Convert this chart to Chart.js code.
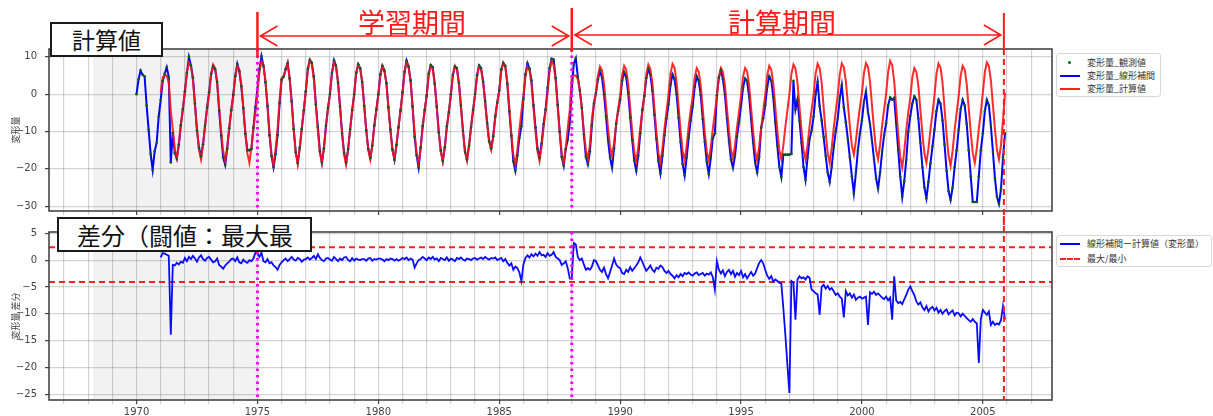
<!DOCTYPE html>
<html>
<head>
<meta charset="utf-8">
<script src="https://cdn.jsdelivr.net/npm/chart.js@4.4.1/dist/chart.umd.min.js"></script>
<style>
  body { margin: 0; background: #fff; width: 1213px; height: 416px; overflow: hidden; position: relative; font-family: "Noto Sans CJK JP", sans-serif; }
  .pane { position: absolute; left: 0; width: 1213px; }
  .box { position: absolute; box-sizing: border-box; background: #fff; border: 2px solid #1a1a1a; white-space: nowrap; overflow: hidden; color: #111; }
  .period { position: absolute; color: #ff1a1a; font-size: 27px; line-height: 27px; height: 27px; white-space: nowrap; transform: translateX(-50%); }
  .legend { position: absolute; box-sizing: border-box; background: #fff; border: 1px solid #d8d8d8; border-radius: 3px; font-size: 9px; color: #333; }
  .legend .row { position: absolute; left: 0; height: 12px; line-height: 12px; white-space: nowrap; }
  .legend .mk { position: absolute; left: 3px; top: 5px; width: 20px; height: 0; }
  .legend .tx { position: absolute; left: 30px; top: 0; }
</style>
</head>
<body>
<div class="pane" style="top:0;height:225px"><canvas id="topChart" width="1213" height="225" style="width:1213px;height:225px"></canvas></div>
<div class="pane" style="top:216px;height:200px"><canvas id="diffChart" width="1213" height="200" style="width:1213px;height:200px"></canvas></div>

<div class="period" style="left:412px;top:8px">学習期間</div>
<div class="period" style="left:782px;top:8px">計算期間</div>
<div class="box" style="left:50px;top:22px;width:113px;height:35px;font-size:23px;line-height:31px;text-align:center">計算値</div>
<div class="box" style="left:57px;top:217px;width:255px;height:35px;font-size:24px;line-height:31px;padding-left:18px">差分（闘値：最大最</div>

<div class="legend" style="left:1056px;top:53px;width:105px;height:44px">
  <div class="row" style="top:3px"><div class="mk" style="left:11px;top:4px;width:3px;height:3px;border-radius:2px;background:#0b6b0b"></div><div class="tx">変形量_観測値</div></div>
  <div class="row" style="top:16px"><div class="mk" style="border-top:2px solid #0000ff"></div><div class="tx">変形量_線形補間</div></div>
  <div class="row" style="top:29px"><div class="mk" style="border-top:2px solid #ff2020"></div><div class="tx">変形量_計算値</div></div>
</div>
<div class="legend" style="left:1056px;top:235px;width:156px;height:32px">
  <div class="row" style="top:2px"><div class="mk" style="border-top:2px solid #0000ff"></div><div class="tx">線形補間ー計算値（変形量）</div></div>
  <div class="row" style="top:17px"><div class="mk" style="border-top:2px dashed #ff2020"></div><div class="tx">最大/最小</div></div>
</div>

<script>
// 月次データ（1行 = 1年, 1月〜12月）
const linearStart = 1970;
const linearRows = [
  [0.0, 4.0, 6.3, 5.2, 4.8, -3.0, -9.5, -16.0, -20.3, -15.3, -13.0, -6.0],
  [-1.5, 3.5, 5.5, 7.2, 4.6, -18.3, -10.4, -15.8, -17.3, -13.5, -8.3, -4.0],
  [0.8, 5.7, 10.0, 7.7, 4.4, -2.6, -9.7, -14.4, -16.6, -13.4, -8.5, -3.6],
  [0.5, 5.4, 7.5, 6.7, 3.3, -4.4, -11.1, -16.9, -18.9, -14.6, -9.2, -4.3],
  [-0.2, 4.8, 8.1, 6.2, 2.1, -3.7, -10.6, -15.0, -15.0, -14.7, -9.0, -3.5],
  [1.5, 6.7, 10.2, 7.6, 3.2, -3.2, -11.0, -16.6, -19.6, -16.1, -11.0, -2.4],
  [3.9, 4.7, 6.8, 8.3, 4.2, -1.9, -9.4, -15.6, -18.4, -14.3, -9.3, -4.3],
  [0.8, 6.8, 9.2, 8.4, 4.7, -2.8, -8.8, -15.3, -18.4, -14.5, -8.5, -3.7],
  [0.1, 5.7, 9.1, 7.6, 3.1, -3.3, -10.4, -15.7, -18.3, -14.8, -9.5, -4.3],
  [-0.1, 5.7, 8.0, 6.9, 3.3, -3.1, -9.7, -14.7, -17.1, -13.8, -8.4, -4.2],
  [0.0, 5.3, 7.6, 6.3, 3.0, -3.5, -9.5, -14.8, -17.6, -13.6, -8.9, -4.4],
  [0.5, 6.0, 9.0, 7.4, 3.7, -3.3, -11.5, -16.4, -19.7, -14.3, -8.5, -4.2],
  [-0.4, 5.5, 7.8, 7.2, 2.8, -3.4, -10.3, -15.1, -17.9, -14.2, -8.6, -4.8],
  [0.0, 5.2, 7.4, 7.0, 3.0, -3.1, -9.8, -15.4, -17.5, -13.8, -8.9, -4.3],
  [0.1, 5.1, 7.7, 7.0, 3.4, -1.8, -7.7, -12.6, -14.5, -11.3, -6.0, -2.3],
  [1.0, 6.6, 8.3, 7.6, 2.8, -4.6, -11.1, -18.0, -20.5, -16.4, -11.7, -8.6],
  [-1.2, 5.3, 8.3, 6.9, 3.7, -3.0, -8.9, -14.6, -17.0, -13.2, -8.0, -4.1],
  [1.7, 7.0, 9.5, 9.3, 4.3, -2.9, -10.1, -16.8, -19.2, -14.7, -12.2, -7.7],
  [1.3, 8.2, 9.6, 4.6, 1.0, -3.7, -10.8, -16.8, -18.8, -15.3, -8.3, -2.5],
  [0.3, 4.0, 6.3, 4.4, 0.0, -6.0, -12.3, -17.0, -19.7, -14.5, -8.0, -4.5],
  [-1.5, 3.6, 5.9, 4.5, 0.3, -6.2, -12.3, -17.8, -20.5, -16.5, -10.5, -4.2],
  [-0.5, 4.3, 6.8, 5.2, 1.0, -5.5, -12.0, -18.0, -21.2, -16.5, -11.0, -6.5],
  [-2.8, 2.5, 5.3, 4.0, 0.0, -6.3, -12.8, -18.7, -21.8, -17.0, -11.7, -7.0],
  [-3.3, 1.9, 4.8, 3.5, -0.3, -6.7, -12.8, -18.2, -21.4, -17.0, -11.8, -10.5],
  [-0.3, 4.5, 6.5, 4.0, -0.2, -6.5, -12.5, -17.5, -19.7, -16.5, -11.3, -7.5],
  [-3.2, 1.8, 4.2, 3.5, -0.5, -6.8, -13.0, -18.4, -20.9, -16.8, -9.0, -6.5],
  [-3.0, 2.0, 4.8, 3.6, -0.8, -7.5, -13.8, -19.4, -22.2, -16.2, -16.2, -16.2],
  [-16.2, -16.0, 3.6, -4.1, -1.5, -7.0, -13.0, -19.5, -22.9, -17.0, -12.0, -9.8],
  [-6.0, 0.0, 3.3, -3.2, -7.0, -11.5, -16.5, -21.0, -23.5, -19.5, -14.2, -10.0],
  [-6.5, -1.0, 2.4, -3.5, -7.5, -12.0, -17.0, -22.0, -26.6, -21.0, -15.0, -10.5],
  [-7.0, -2.0, 0.7, -4.8, -8.0, -12.5, -17.5, -22.5, -25.3, -21.0, -15.5, -11.0],
  [-7.8, -3.0, -0.9, -1.5, -1.0, -8.0, -15.0, -22.0, -27.5, -23.3, -17.6, -10.0],
  [-5.8, -2.5, -0.6, -1.5, -6.5, -13.0, -19.5, -25.0, -27.9, -23.5, -18.5, -14.0],
  [-9.5, -4.5, -1.5, -2.5, -7.0, -13.5, -20.5, -26.0, -28.3, -25.0, -19.5, -15.0],
  [-9.5, -4.0, -1.5, -3.0, -8.0, -15.0, -22.0, -28.9, -28.9, -28.9, -22.0, -15.0],
  [-10.5, -4.5, -1.5, -3.0, -8.5, -15.5, -22.5, -27.5, -29.4, -25.5, -17.0, -10.5]
];

const calcStart = 1971;
const calcRows = [
  [0.5, 4.5, 5.0, 5.0, 3.0, -4.4, -9.5, -14.8, -17.1, -13.2, -8.0, -3.8],
  [0.4, 5.9, 8.5, 7.5, 3.6, -2.9, -9.4, -14.9, -17.5, -13.6, -8.4, -4.0],
  [-0.1, 5.3, 7.9, 6.9, 3.0, -3.5, -9.9, -15.3, -17.9, -14.0, -8.9, -4.5],
  [-0.5, 5.0, 7.6, 6.6, 2.7, -3.8, -10.3, -15.8, -18.4, -14.5, -9.3, -4.9],
  [0.3, 6.1, 8.9, 7.8, 3.6, -3.4, -10.4, -16.2, -19.0, -14.8, -9.2, -1.5],
  [4.3, 4.7, 6.5, 8.5, 4.0, -2.5, -9.5, -15.5, -18.8, -14.5, -9.0, -4.4],
  [0.6, 6.3, 9.1, 8.0, 3.9, -3.0, -9.9, -15.7, -18.4, -14.3, -8.8, -4.1],
  [0.0, 5.8, 8.5, 7.4, 3.3, -3.6, -10.4, -16.2, -18.9, -14.8, -9.3, -4.7],
  [0.0, 5.4, 7.9, 6.9, 3.1, -3.3, -9.6, -15.0, -17.5, -13.7, -8.6, -4.3],
  [-0.3, 5.0, 7.5, 6.5, 2.8, -3.5, -9.8, -15.0, -17.5, -13.8, -8.8, -4.5],
  [0.1, 5.8, 8.5, 7.4, 3.4, -3.4, -10.1, -15.8, -18.5, -14.5, -9.1, -4.5],
  [-0.4, 5.0, 7.6, 6.6, 2.7, -3.7, -10.1, -15.5, -18.1, -14.2, -9.1, -4.7],
  [-0.3, 5.1, 7.6, 6.6, 2.8, -3.6, -9.9, -15.3, -17.8, -14.0, -8.9, -4.6],
  [-0.3, 5.0, 7.4, 6.5, 3.2, -2.4, -8.0, -12.7, -14.9, -11.6, -6.5, -2.3],
  [0.8, 6.2, 8.5, 7.4, 3.3, -3.6, -10.5, -16.2, -19.0, -14.9, -9.4, -4.7],
  [-0.4, 4.9, 7.4, 6.4, 2.6, -3.7, -10.1, -15.4, -17.9, -14.1, -9.0, -4.7],
  [0.4, 6.2, 8.9, 7.8, 3.7, -3.2, -10.1, -15.9, -18.6, -14.5, -9.0, -4.3],
  [4.7, 5.0, 5.0, 4.0, 1.0, -4.0, -10.0, -15.0, -17.5, -13.5, -6.5, -2.5],
  [0.3, 5.0, 7.4, 6.4, 2.8, -3.2, -9.2, -14.2, -16.6, -13.0, -8.2, -4.1],
  [-0.4, 5.0, 7.6, 6.6, 2.7, -3.7, -10.1, -15.5, -18.1, -14.2, -9.1, -4.7],
  [-0.3, 5.3, 7.9, 6.8, 2.9, -3.7, -10.2, -15.8, -18.4, -14.5, -9.2, -4.7],
  [-0.1, 5.5, 8.1, 7.1, 3.2, -3.3, -9.8, -15.2, -17.8, -13.9, -8.7, -4.3],
  [-0.7, 4.5, 7.0, 6.0, 2.3, -4.0, -10.2, -15.4, -17.9, -14.2, -9.2, -5.0],
  [-0.5, 4.6, 7.0, 6.0, 2.4, -3.7, -9.8, -14.9, -17.3, -13.7, -8.8, -4.7],
  [-0.4, 4.7, 7.0, 6.1, 2.4, -3.8, -10.0, -15.3, -17.9, -14.0, -9.0, -4.6],
  [-0.2, 5.1, 7.6, 6.6, 2.8, -3.4, -9.7, -15.0, -17.5, -13.7, -8.7, -4.4],
  [0.0, 5.4, 7.9, 6.9, 3.1, -3.3, -9.6, -15.0, -17.5, -13.7, -8.6, -4.3],
  [-0.1, 5.5, 8.1, 7.0, 3.1, -3.6, -10.2, -15.8, -18.4, -14.4, -9.1, -4.6],
  [-0.2, 5.3, 8.2, 7.2, 3.6, -2.5, -8.6, -13.8, -16.2, -12.5, -7.7, -3.5],
  [0.3, 5.7, 8.3, 7.3, 3.4, -3.1, -9.5, -14.9, -17.5, -13.6, -8.5, -4.1],
  [0.1, 6.0, 8.9, 7.8, 3.5, -3.6, -10.8, -16.8, -19.6, -15.3, -9.6, -4.8],
  [-0.9, 4.5, 7.0, 6.0, 2.2, -4.2, -10.5, -15.9, -18.4, -14.6, -9.5, -5.2],
  [-0.3, 5.5, 8.2, 7.1, 3.0, -3.9, -10.7, -16.5, -19.2, -15.1, -9.6, -5.0],
  [-0.5, 5.0, 7.6, 6.6, 2.7, -3.8, -10.3, -15.8, -18.4, -14.5, -9.3, -4.9],
  [0.4, 5.9, 8.5, 7.5, 3.6, -2.9, -9.4, -14.9, -17.5, -13.6, -7.0, 0.3]
];

// 差分（線形補間ー計算値）
const diffStart = 1971;
const diffRows = [
  [0.5, 1.3, 1.2, 1.0, 0.8, -13.9, -0.9, -1.0, -0.5, -0.8, -0.3, -0.5],
  [0.4, -0.2, 0.6, 0.2, 0.8, 0.3, -0.3, 0.5, 0.9, 0.2, -0.1, 0.4],
  [0.6, 0.1, -0.4, -0.2, 0.3, -0.9, -1.2, -1.6, -1.0, -0.6, -0.3, 0.2],
  [0.3, -0.2, 0.5, -0.4, -0.6, 0.1, -0.3, -0.5, 0.0, -0.2, 0.3, 1.4],
  [1.2, 0.6, 1.4, -0.2, -0.4, 0.2, -0.6, -0.4, -1.0, -1.3, -1.8, -0.9],
  [-0.4, 0.0, 0.3, -0.2, 0.2, 0.6, 0.1, -0.1, 0.4, 0.2, -0.3, 0.1],
  [0.2, 0.5, 0.1, 0.4, 0.8, 0.2, 1.1, 0.4, 0.0, -0.2, 0.3, 0.4],
  [0.1, -0.1, 0.6, 0.2, -0.2, 0.3, 0.0, 0.5, 0.6, 0.0, -0.2, 0.4],
  [-0.1, 0.3, 0.1, 0.0, 0.2, 0.2, -0.1, 0.3, 0.4, -0.1, 0.2, 0.1],
  [0.3, 0.3, 0.1, -0.2, 0.2, 0.0, 0.3, 0.2, -0.1, 0.2, -0.1, 0.1],
  [0.4, 0.2, 0.5, 0.0, 0.3, 0.1, -1.4, -0.6, 0.0, 0.2, 0.6, 0.3],
  [0.0, 0.5, 0.2, 0.6, 0.1, 0.3, -0.2, 0.4, 0.2, 0.0, 0.5, -0.1],
  [0.3, 0.1, -0.2, 0.4, 0.2, 0.5, 0.1, -0.1, 0.3, 0.2, 0.0, 0.3],
  [0.4, 0.1, 0.3, 0.5, 0.2, 0.6, 0.3, 0.1, 0.4, 0.3, 0.5, 0.0],
  [0.2, 0.4, -0.2, 0.2, -0.5, -1.0, -0.6, -1.8, -1.2, -1.5, -2.3, -3.9],
  [-0.8, 0.4, 0.9, 0.5, 1.1, 0.7, 1.2, 0.8, 1.5, 0.9, 1.0, 0.6],
  [1.3, 0.8, 1.0, 1.5, 0.6, 0.3, 0.0, -0.9, -0.6, -0.2, -1.5, -3.4],
  [-3.4, 3.2, 2.9, 0.6, 0.0, 0.3, -0.8, -1.8, -1.5, -1.8, -1.2, 0.0],
  [-0.2, -1.0, -1.8, -2.2, -1.4, -2.6, -3.4, -2.2, -1.0, 0.3, -0.8, -1.3],
  [-1.5, -2.4, -2.6, -1.8, -2.2, -1.3, -2.0, -1.5, -1.0, -0.4, 0.5, -0.3],
  [-1.2, -2.0, -1.5, -1.0, -1.8, -2.2, -1.4, -1.6, -1.0, -1.3, -2.0, -2.4],
  [-2.0, -2.6, -2.9, -3.4, -2.8, -3.2, -2.6, -3.0, -2.4, -2.6, -2.3, -2.7],
  [-2.9, -2.5, -2.3, -2.8, -2.6, -2.4, -2.9, -2.5, -2.7, -2.3, -3.2, -5.5],
  [-0.2, -1.8, -2.5, -1.9, -3.0, -2.2, -1.8, -2.6, -2.0, -3.1, -2.4, -2.8],
  [-2.0, -3.2, -2.6, -3.4, -2.8, -2.2, -2.9, -2.5, -1.5, -0.5, 0.0, -0.6],
  [-1.8, -2.9, -3.5, -3.0, -4.0, -3.6, -3.9, -4.2, -4.4, -9.0, -14.0, -19.5],
  [-24.8, -3.9, -4.2, -11.1, -3.6, -3.0, -3.4, -3.2, -3.6, -3.0, -3.3, -5.5],
  [-5.8, -6.2, -6.4, -10.2, -5.0, -4.6, -5.3, -4.8, -5.5, -5.2, -5.8, -6.5],
  [-6.2, -6.8, -7.2, -10.7, -5.8, -6.6, -6.2, -7.0, -6.4, -7.4, -7.0, -6.8],
  [-7.2, -7.0, -6.8, -12.1, -6.0, -6.3, -5.9, -6.5, -6.2, -6.6, -7.0, -7.3],
  [-6.8, -7.5, -7.0, -11.1, -3.0, -7.5, -8.0, -7.8, -8.2, -7.3, -6.5, -5.5],
  [-4.9, -5.8, -6.5, -7.7, -8.3, -7.9, -8.8, -9.3, -8.6, -9.6, -9.0, -8.7],
  [-9.4, -8.9, -9.8, -9.3, -10.0, -9.5, -9.2, -10.1, -9.7, -9.4, -10.3, -9.8],
  [-9.9, -10.5, -10.0, -10.4, -10.8, -11.2, -11.5, -11.0, -11.5, -11.8, -19.2, -11.0],
  [-9.3, -9.8, -10.2, -9.6, -12.1, -11.5, -12.1, -11.8, -12.0, -11.2, -8.6, -11.1]
];

// 閾値（最大/最小）
const thresholdMax = 2.4;
const thresholdMin = -4.1;

// 期間
const shadeStart = 1968.2;
const learnStart = 1975;
const calcPeriodStart = 1988;
const calcPeriodEnd = 2005.87;

// 軸
const X_MIN = 1966.38, X_MAX = 2007.86;

function toPoints(startYear, rows) {
  const out = [];
  rows.flat().forEach((v, i) => out.push({ x: startYear + i / 12, y: v }));
  return out;
}

const tickFont = { family: "DejaVu Sans", size: 10 };
const gridColor = "rgba(0,0,0,0.17)";

function minus(v) { return v < 0 ? "\u2212" + (-v) : String(v); }

function scales(yMin, yMax, yStep, yTitle, showX, xHeight) {
  return {
    x: {
      type: "linear", min: X_MIN, max: X_MAX,
      afterBuildTicks: s => { s.ticks = s.ticks.filter(t => Number.isInteger(t.value)); },
      afterFit: s => { s.height = xHeight; },
      ticks: { display: showX, stepSize: 1, includeBounds: false, autoSkip: false, maxRotation: 0,
               callback: v => (v % 5 === 0 ? String(v) : ""), font: tickFont, color: "#444", padding: 2 },
      grid: { color: gridColor, lineWidth: 1.2, tickLength: 4,
              tickColor: c => (c.tick && c.tick.value % 5 === 0 ? "#444" : gridColor) },
      border: { display: false }
    },
    y: {
      min: yMin, max: yMax,
      afterBuildTicks: s => { s.ticks = s.ticks.filter(t => Math.abs(t.value % yStep) < 1e-9); },
      afterFit: s => { s.width = 49; },
      ticks: { stepSize: yStep, includeBounds: false, callback: v => minus(v), font: tickFont, color: "#444", padding: 8 },
      grid: { color: gridColor, lineWidth: 1.2, tickLength: 4, tickColor: "#444" },
      border: { display: false },
      title: { display: true, text: yTitle, color: "#444", font: { family: "Noto Sans CJK JP", size: 9 }, padding: { top: 10, bottom: 0 } }
    }
  };
}

function vline(ctx, x, y1, y2, color, width, dash) {
  ctx.save();
  ctx.strokeStyle = color; ctx.lineWidth = width; ctx.setLineDash(dash || []);
  ctx.beginPath(); ctx.moveTo(x, y1); ctx.lineTo(x, y2); ctx.stroke();
  ctx.restore();
}

function arrow(ctx, x1, x2, y) {
  ctx.save();
  ctx.strokeStyle = "#ff1a1a"; ctx.lineWidth = 1.6;
  ctx.beginPath();
  ctx.moveTo(x1, y); ctx.lineTo(x2, y);
  ctx.moveTo(x1 + 17, y - 10); ctx.lineTo(x1, y); ctx.lineTo(x1 + 17, y + 10);
  ctx.moveTo(x2 - 17, y - 10); ctx.lineTo(x2, y); ctx.lineTo(x2 - 17, y + 10);
  ctx.stroke();
  ctx.restore();
}

function overlay(isTop) {
  return {
    id: "overlay",
    beforeDraw(chart) {
      const a = chart.chartArea, x = chart.scales.x, ctx = chart.ctx;
      const x1 = x.getPixelForValue(shadeStart), x2 = x.getPixelForValue(learnStart);
      ctx.save();
      ctx.fillStyle = "#f2f2f2";
      ctx.fillRect(x1, a.top, x2 - x1, a.bottom - a.top);
      ctx.restore();
    },
    afterDraw(chart) {
      const a = chart.chartArea, x = chart.scales.x, ctx = chart.ctx;
      ctx.save();
      ctx.strokeStyle = "#3a3a3a"; ctx.lineWidth = 1.5;
      ctx.strokeRect(a.left, a.top, a.right - a.left, a.bottom - a.top);
      ctx.restore();
      const xl = x.getPixelForValue(learnStart);
      const xc = x.getPixelForValue(calcPeriodStart);
      const xe = x.getPixelForValue(calcPeriodEnd);
      vline(ctx, xl, a.top, a.bottom, "#ff00ff", 3, [2.5, 4]);
      vline(ctx, xc, a.top, a.bottom, "#ff00ff", 3, [2.5, 4]);
      if (isTop) {
        vline(ctx, xe, a.top, chart.height, "#ff1a1a", 2, [6, 4]);
        vline(ctx, xl, 12, a.top + 8, "#ff1a1a", 2.5);
        vline(ctx, xc, 8, a.top + 3, "#ff1a1a", 2.5);
        vline(ctx, xe, 13, a.top, "#ff1a1a", 2);
        arrow(ctx, xl + 3, xc - 3, 36);
        arrow(ctx, xc + 3, xe - 3, 35);
      } else {
        vline(ctx, xe, 0, a.bottom, "#ff1a1a", 2, [6, 4]);
      }
    }
  };
}

const baseOptions = {
  responsive: false,
  animation: false,
  devicePixelRatio: 1,
  events: [],
  plugins: { legend: { display: false }, tooltip: { enabled: false } },
  elements: { line: { tension: 0 } }
};

new Chart(document.getElementById("topChart").getContext("2d"), {
  type: "line",
  data: {
    datasets: [
      { label: "変形量_観測値", data: toPoints(linearStart, linearRows), showLine: false,
        pointRadius: 1.3, pointBorderWidth: 0, pointBackgroundColor: "#0b5d0b" },
      { label: "変形量_計算値", data: toPoints(calcStart, calcRows), borderColor: "rgba(255,20,20,0.9)",
        borderWidth: 2, pointRadius: 0 },
      { label: "変形量_線形補間", data: toPoints(linearStart, linearRows), borderColor: "#0000ff",
        borderWidth: 2, pointRadius: 0 }
    ]
  },
  options: Object.assign({}, baseOptions, {
    layout: { padding: { left: 0, right: 161, top: 49, bottom: 0 } },
    scales: scales(-31.3, 12.1, 10, "変形量", false, 9)
  }),
  plugins: [overlay(true)]
});

new Chart(document.getElementById("diffChart").getContext("2d"), {
  type: "line",
  data: {
    datasets: [
      { label: "線形補間ー計算値（変形量）", data: toPoints(diffStart, diffRows), borderColor: "#0a0aff",
        borderWidth: 1.8, pointRadius: 0 },
      { label: "最大/最小", data: [{ x: X_MIN, y: thresholdMax }, { x: X_MAX, y: thresholdMax }],
        borderColor: "#ff2020", borderWidth: 2, borderDash: [6, 4], pointRadius: 0 },
      { label: "最大/最小", data: [{ x: X_MIN, y: thresholdMin }, { x: X_MAX, y: thresholdMin }],
        borderColor: "#ff2020", borderWidth: 2, borderDash: [6, 4], pointRadius: 0 }
    ]
  },
  options: Object.assign({}, baseOptions, {
    layout: { padding: { left: 0, right: 161, top: 16, bottom: 0 } },
    scales: scales(-26.1, 5.25, 5, "変形量 差分", true, 16)
  }),
  plugins: [overlay(false)]
});
</script>
</body>
</html>
